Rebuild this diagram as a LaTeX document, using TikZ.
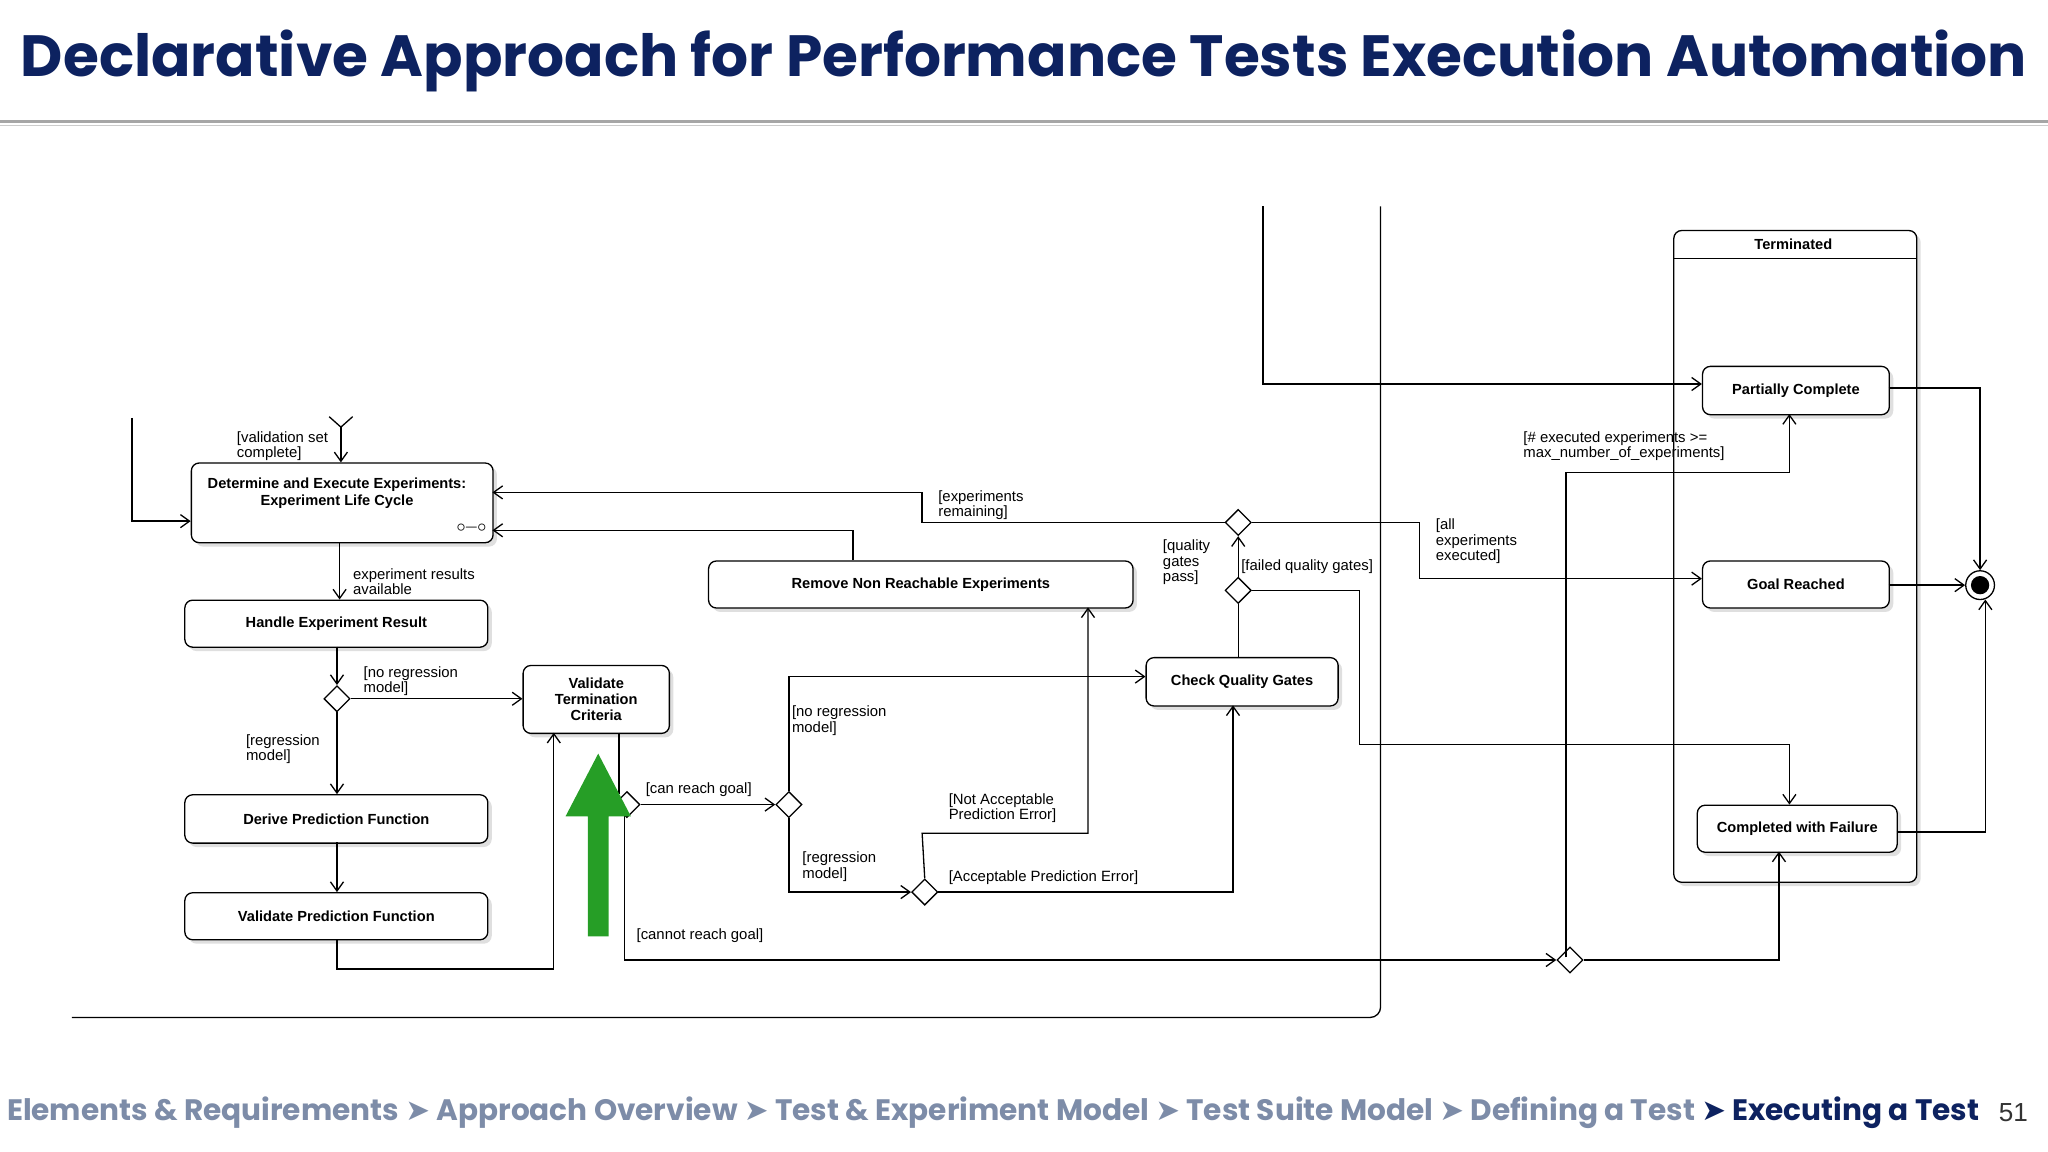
\documentclass[tikz,border=0pt]{standalone}
\usepackage{fontspec}
\setmainfont{Liberation Sans}
\newfontfamily\titlefont{Poppins}
\newfontfamily\symfont{DejaVu Sans}
\usetikzlibrary{arrows.meta,shapes.geometric,shadows}
\definecolor{navy}{HTML}{0D2260}
\definecolor{crumb}{HTML}{7D8CA8}
\begin{document}
\begin{tikzpicture}[x=0.5pt,y=-0.5pt,
  box/.style={draw,rounded corners=3pt,fill=white,line width=0.5pt,drop shadow={shadow xshift=1.5pt,shadow yshift=-1.5pt,opacity=0.25},font=\bfseries\fontsize{5.6}{6.2}\selectfont,align=center,inner sep=0pt},
  dia/.style={draw,diamond,fill=white,minimum width=10pt,minimum height=10pt,inner sep=0pt,line width=0.5pt},
  ln/.style={line width=0.5pt},
  ar/.style={line width=0.5pt,-{Straight Barb[length=3.5pt,width=5pt]}},
  lbl/.style={font=\fontsize{5.7}{5.9}\selectfont,align=left,anchor=north west,inner sep=0pt}]
\useasboundingbox (0,0) rectangle (1568,882);
% title
\node[inner sep=0pt,text=navy,anchor=center] (title) at (784,47) {\resizebox{768pt}{!}{\titlefont\bfseries\fontsize{27}{27}\selectfont Declarative Approach for Performance Tests Execution Automation}};
\draw[gray!70,line width=1.2pt] (0,93) -- (1568,93);
\draw[gray!40,line width=0.6pt] (0,96) -- (1568,96);
% frame
\draw[ln,rounded corners=4pt] (1057,158) -- (1057,779) -- (55,779);
% nodes
\node[box,minimum width=115.5pt,minimum height=30.5pt,anchor=north west] (det) at (146,354) {};
\node[font=\bfseries\fontsize{5.6}{6.3}\selectfont,align=center,anchor=north] (dett) at (258,359) {Determine and Execute Experiments:\\Experiment Life Cycle};
\node[font=\fontsize{6}{6}\selectfont] (inf) at (361,404) {$\circ\!\!-\!\!\circ$};
\node[box,minimum width=116pt,minimum height=18pt,anchor=north west] (han) at (141,459) {Handle Experiment Result};
\node[box,minimum width=116pt,minimum height=18.5pt,anchor=north west] (der) at (141,608) {Derive Prediction Function};
\node[box,minimum width=116pt,minimum height=18pt,anchor=north west] (vpf) at (141,683) {Validate Prediction Function};
\node[box,minimum width=56pt,minimum height=26pt,anchor=north west] (vtc) at (400,509) {Validate\\Termination\\Criteria};
\node[box,minimum width=162.5pt,minimum height=18pt,anchor=north west] (rem) at (542,429) {Remove Non Reachable Experiments};
\node[box,minimum width=73.5pt,minimum height=18.5pt,anchor=north west] (cqg) at (877,503) {Check Quality Gates};
\node[box,minimum width=93pt,minimum height=249.5pt,anchor=north west] (term) at (1281,176) {};
\node[font=\bfseries\fontsize{5.6}{6}\selectfont] (termt) at (1373,187) {Terminated};
\draw[ln] (1281,198) -- (1467,198);
\node[box,minimum width=71.5pt,minimum height=18.5pt,anchor=north west] (pc) at (1303,280) {Partially Complete};
\node[box,minimum width=71.5pt,minimum height=18pt,anchor=north west] (gr) at (1303,429) {Goal Reached};
\node[box,minimum width=76.5pt,minimum height=18pt,anchor=north west] (cf) at (1299,616) {Completed with Failure};
\node[draw,circle,minimum size=11pt,inner sep=0pt,line width=0.5pt,fill=white] (fin) at (1516,448) {};
\fill (fin) circle (3.5pt);
% diamonds
\node[dia] (d1) at (258,535) {};
\node[dia] (d2) at (480,616) {};
\node[dia] (d3) at (604,616) {};
\node[dia] (d4) at (708,683) {};
\node[dia] (d5) at (948,452) {};
\node[dia] (d6) at (948,400) {};
\node[dia] (d7) at (1202,735) {};
% connectors
\coordinate (f) at (261,327);
\coordinate (fa) at (252,319);\coordinate (fb) at (270,319);
\draw[ln] (fa) -- (f) -- (fb);
\draw[ar] (f) -- (261,354);
\node[lbl] (l1) at (181,330) {[validation set\\complete]};
\coordinate (ls) at (101,320);
\draw[ar] (ls) -- (101,399) -- (146,399);
\draw[ar] (260,415) -- (260,459);
\node[lbl] (l2) at (270,435) {experiment results\\available};
\draw[ar] (258,495) -- (d1.north);
\draw[ar] (d1.east) -- (400,535);
\node[lbl] (l3) at (278,510) {[no regression\\model]};
\draw[ar] (d1.south) -- (258,608);
\node[lbl] (l4) at (188,562) {[regression\\model]};
\draw[ar] (258,645) -- (258,683);
\draw[ar] (258,719) -- (258,742) -- (424,742) -- (424,561);
\draw[ln] (474,561) -- (474,608);
\draw[ar] (d2.east) -- (d3.west);
\node[lbl] (l5) at (494,599) {[can reach goal]};
\draw[ar] (478,624) -- (478,735) -- (d7.west);
\node[lbl] (l6) at (487,711) {[cannot reach goal]};
\draw[ar] (d3.north) -- (604,518) -- (877,518);
\node[lbl] (l7) at (606,540) {[no regression\\model]};
\draw[ar] (d3.south) -- (604,683) -- (d4.west);
\node[lbl] (l8) at (614,652) {[regression\\model]};
\draw[ar] (d4.north) -- (706,638) -- (833,638) -- (833,465);
\node[lbl] (l9) at (726,607) {[Not Acceptable\\Prediction Error]};
\draw[ar] (d4.east) -- (944,683) -- (944,540);
\node[lbl] (l10) at (726,666) {[Acceptable Prediction Error]};
\draw[ar] (653,429) -- (653,406) -- (377,406);
\draw[ln] (948,503) -- (d5.south);
\draw[ar] (d5.north) -- (d6.south);
\node[lbl] (l11) at (890,413) {[quality\\gates\\pass]};
\node[lbl] (l12) at (950,428) {[failed quality gates]};
\draw[ar] (d5.east) -- (1041,452) -- (1041,570) -- (1370,570) -- (1370,616);
\draw[ar] (d6.west) -- (706,400) -- (706,377) -- (377,377);
\node[lbl] (l13) at (718,375) {[experiments\\remaining]};
\draw[ar] (d6.east) -- (1087,400) -- (1087,443) -- (1303,443);
\node[lbl] (l14) at (1099,397) {[all\\experiments\\executed]};
\draw[ar] (1199,733) -- (1199,362) -- (1370,362) -- (1370,317);
\node[lbl] (l15) at (1166,330) {[\# executed experiments >=\\max\_number\_of\_experiments]};
\draw[ar] (d7.east) -- (1362,735) -- (1362,652);
\coordinate (tl) at (967,158);
\draw[ar] (tl) -- (967,294) -- (1303,294);
\draw[ar] (1446,297) -- (1516,297) -- (fin.north);
\draw[ar] (1446,448) -- (fin.west);
\draw[ar] (1452,637) -- (1520,637) -- (1520,459);
% green arrow
\fill[green!55!black!85!white] (450,717) -- (466,717) -- (466,625) -- (483,625) -- (458,577) -- (433,625) -- (450,625) -- cycle;
% breadcrumbs
\node[anchor=west,inner sep=0pt,text=crumb] (bc) at (5,852) {\resizebox{755pt}{!}{\titlefont\bfseries\fontsize{11.5}{12}\selectfont Elements \& Requirements {\symfont ➤} Approach Overview {\symfont ➤} Test \& Experiment Model {\symfont ➤} Test Suite Model {\symfont ➤} Defining a Test \textcolor{navy}{{\symfont ➤} Executing a Test}}};
\node[anchor=west,inner sep=0pt,font=\fontsize{10}{12}\selectfont,text=black!80] (pg) at (1530,852) {51};
\end{tikzpicture}
\end{document}
